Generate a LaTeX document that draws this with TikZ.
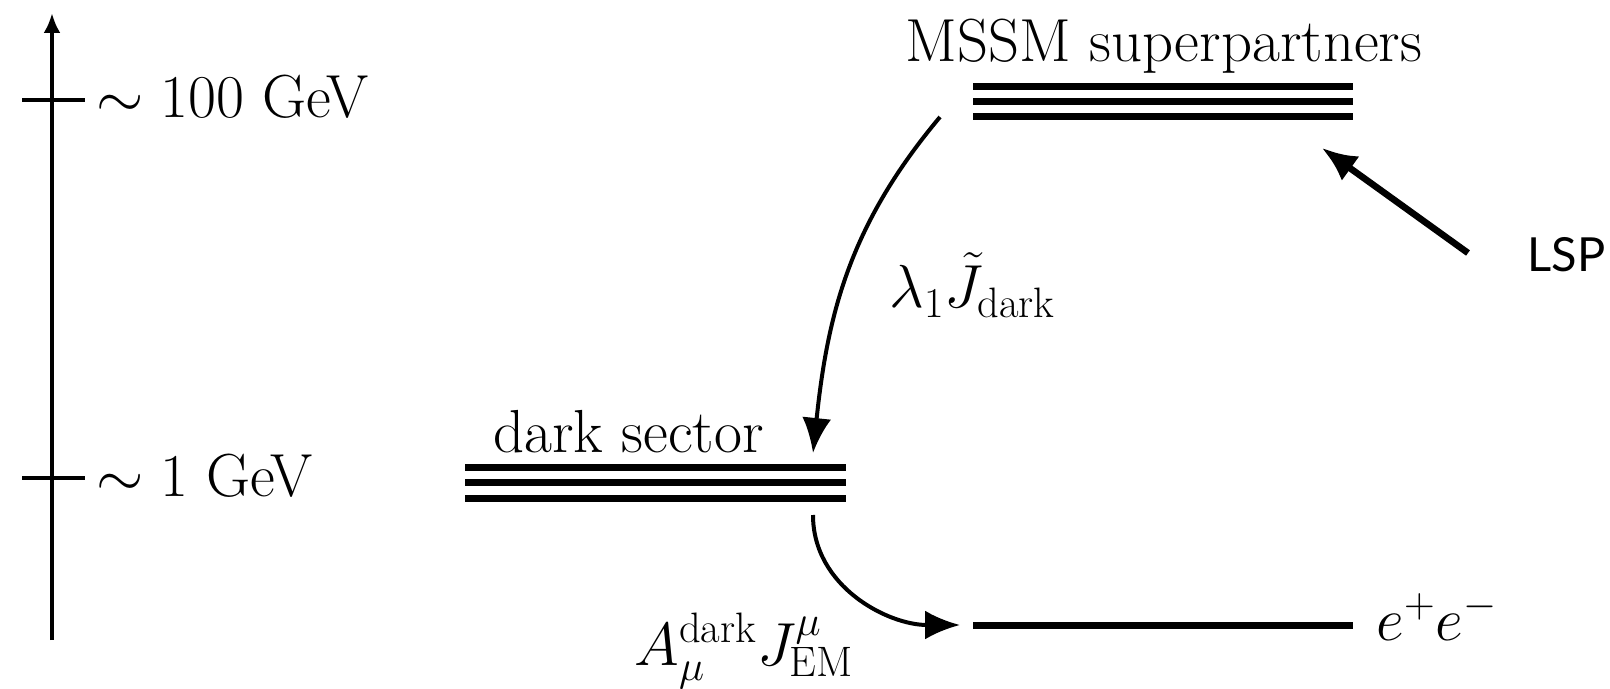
\RequirePackage{fix-cm}
\documentclass[tikz,border=0pt]{standalone}
\usepackage{fontspec}
\newfontfamily\lspfont{Lato}
\usetikzlibrary{arrows.meta}
\begin{document}
\begin{tikzpicture}[x=0.5pt,y=-0.5pt,
  bar/.style={line width=3.5pt},
  ax/.style={line width=2pt},
  conn/.style={line width=2pt,-{Latex[length=17.5pt,width=14.5pt]}},
  lbl/.style={inner sep=0pt,anchor=base west,font=\fontsize{30.4}{36}\selectfont}]
\useasboundingbox (0,0) rectangle (1610,689);
% energy axis
\coordinate (axb) at (52,640);
\coordinate (axt) at (52,13);
\draw[ax,-{Latex[length=10pt,width=8.5pt]}] (axb) -- (axt);
\coordinate (t1l) at (22,100); \coordinate (t1r) at (85,100);
\coordinate (t2l) at (22,478); \coordinate (t2r) at (85,478);
\draw[ax] (t1l) -- (t1r);
\draw[ax] (t2l) -- (t2r);
\node[lbl] (l100) at (96,118) {$\sim 100$ GeV};
\node[lbl] (l1) at (96,496) {$\sim 1$ GeV};
% MSSM
\node[lbl] (mssmtxt) at (905,62) {MSSM superpartners};
\coordinate (m1l) at (973,87);  \coordinate (m1r) at (1353,87);
\coordinate (m2l) at (973,102); \coordinate (m2r) at (1353,102);
\coordinate (m3l) at (973,117); \coordinate (m3r) at (1353,117);
\draw[bar] (m1l) -- (m1r);
\draw[bar] (m2l) -- (m2r);
\draw[bar] (m3l) -- (m3r);
% dark sector
\node[lbl] (darktxt) at (493,452) {dark sector};
\coordinate (d1l) at (465,467); \coordinate (d1r) at (846,467);
\coordinate (d2l) at (465,482); \coordinate (d2r) at (846,482);
\coordinate (d3l) at (465,498); \coordinate (d3r) at (846,498);
\draw[bar] (d1l) -- (d1r);
\draw[bar] (d2l) -- (d2r);
\draw[bar] (d3l) -- (d3r);
% e+e-
\coordinate (el) at (973,625); \coordinate (er) at (1353,625);
\draw[bar] (el) -- (er);
\node[lbl] (eetxt) at (1376,640) {$e^+e^-$};
% arrows
\coordinate (a1s) at (940,117); \coordinate (a1e) at (813,453);
\draw[conn] (a1s) to[out=230,in=84] (a1e);
\node[lbl] (lam) at (889,308) {$\lambda_1\tilde J_{\mathrm{dark}}$};
\coordinate (a2s) at (813,515); \coordinate (a2e) at (960,625);
\draw[conn] (a2s) to[out=-90,in=180] (a2e);
\node[lbl] (atxt) at (634,665) {$A_\mu^{\mathrm{dark}}J^\mu_{\mathrm{EM}}$};
% LSP
\coordinate (lspS) at (1468,253); \coordinate (lspE) at (1322,148);
\draw[line width=3.3pt,-{Latex[length=17.5pt,width=15pt]}] (lspS) -- (lspE);
\node[inner sep=0pt,anchor=base east,font=\lspfont\fontsize{23.5}{28}\selectfont] (lsp) at (1606,272) {LSP};
\end{tikzpicture}
\end{document}
